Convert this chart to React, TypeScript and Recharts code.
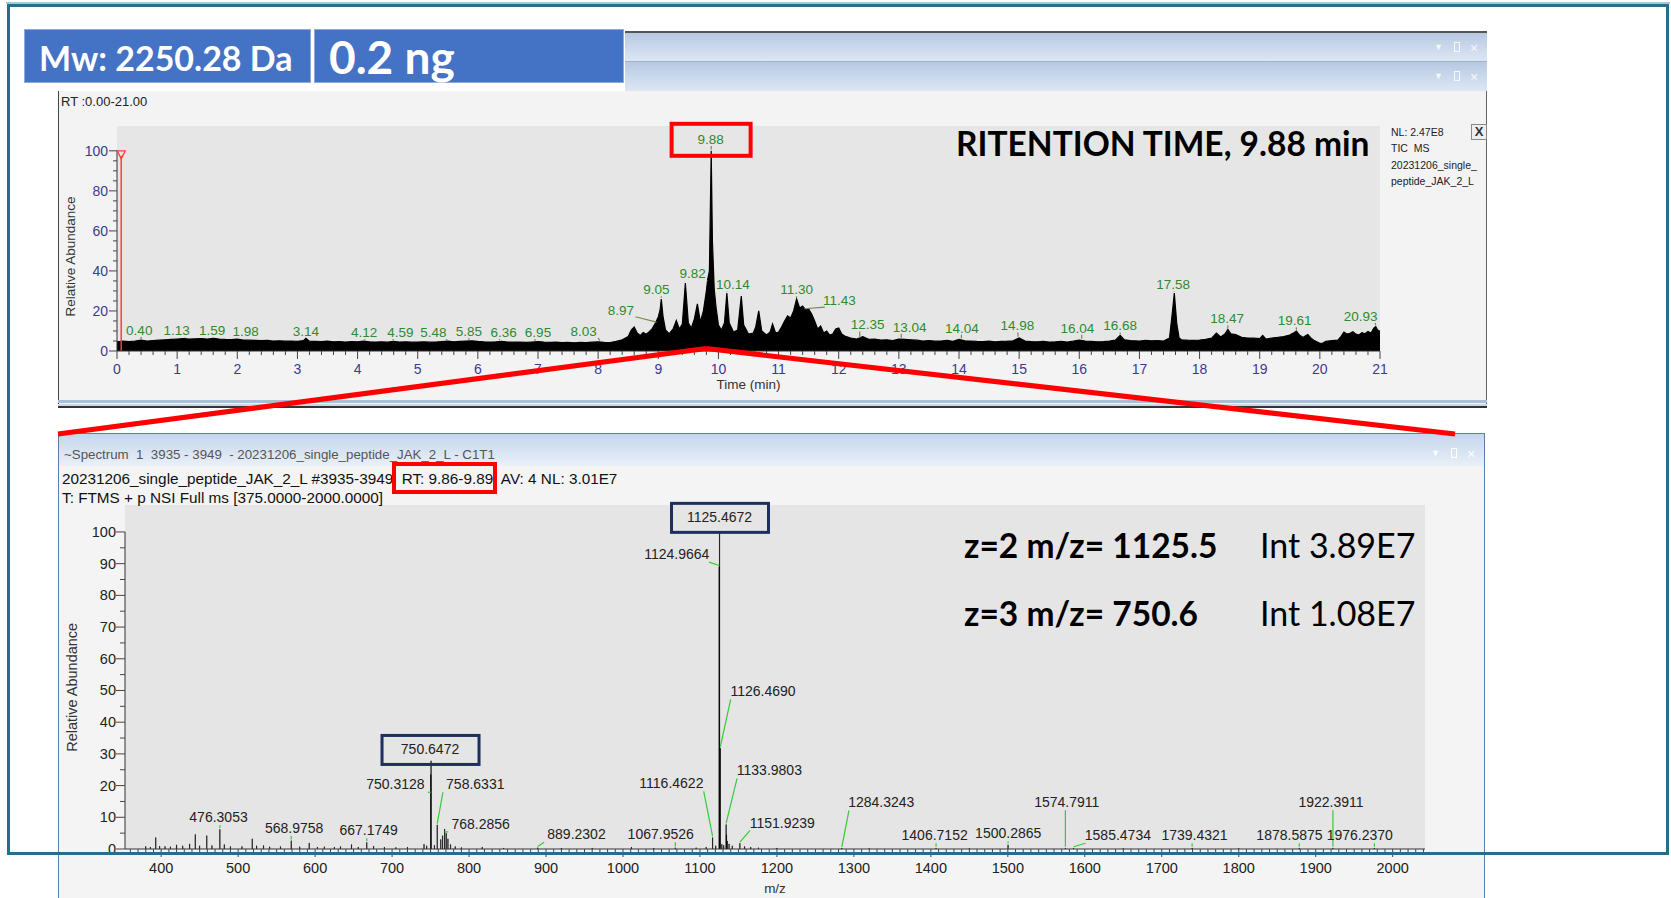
import React from 'react';
import {
  ComposedChart,
  Area,
  Bar,
  XAxis,
  YAxis,
  CartesianGrid,
  ReferenceLine,
  ReferenceDot,
} from 'recharts';

const FONT = '"Liberation Sans", Arial, sans-serif';
const TITLE_FONT = 'Lato, "Open Sans", sans-serif';

// ---- TIC chromatogram (time in min, relative abundance %)
const ticTimes = [
  0.0, 0.1, 0.2, 0.3, 0.4, 0.5, 0.6, 0.7, 0.8, 0.9,
  1.0, 1.1, 1.2, 1.3, 1.4, 1.5, 1.6, 1.7, 1.8, 1.9,
  2.0, 2.1, 2.2, 2.3, 2.4, 2.5, 2.6, 2.7, 2.8, 2.9,
  3.0, 3.1, 3.14, 3.2, 3.3, 3.4, 3.5, 3.6, 3.7, 3.8, 3.9,
  4.0, 4.1, 4.2, 4.3, 4.4, 4.5, 4.6, 4.7, 4.8, 4.9,
  5.0, 5.1, 5.2, 5.3, 5.4, 5.5, 5.6, 5.7, 5.8, 5.9,
  6.0, 6.1, 6.2, 6.3, 6.4, 6.5, 6.6, 6.7, 6.8, 6.9,
  7.0, 7.1, 7.2, 7.3, 7.4, 7.5, 7.6, 7.7, 7.8, 7.9,
  8.0, 8.1, 8.2, 8.3, 8.4, 8.5, 8.55, 8.6, 8.65, 8.7, 8.75, 8.8, 8.85, 8.9, 8.95,
  9.0, 9.03, 9.05, 9.08, 9.12, 9.18, 9.25, 9.3, 9.35, 9.4, 9.45, 9.5, 9.55, 9.6, 9.65,
  9.7, 9.75, 9.8, 9.82, 9.85, 9.88, 9.9, 9.93, 9.96,
  10.0, 10.05, 10.1, 10.14, 10.18, 10.25, 10.32, 10.38, 10.42, 10.5, 10.58, 10.62, 10.67,
  10.72, 10.8, 10.86, 10.9, 10.95,
  11.0, 11.05, 11.1, 11.15, 11.2, 11.25, 11.3, 11.35, 11.4, 11.45, 11.5, 11.55, 11.6,
  11.65, 11.7, 11.75, 11.8, 11.85, 11.9, 11.95,
  12.0, 12.05, 12.1, 12.2, 12.3, 12.4, 12.5, 12.6, 12.7, 12.8, 12.9,
  13.0, 13.1, 13.2, 13.3, 13.4, 13.5, 13.6, 13.7, 13.8, 13.9,
  14.0, 14.1, 14.2, 14.3, 14.4, 14.5, 14.6, 14.7, 14.8, 14.9,
  15.0, 15.1, 15.2, 15.3, 15.4, 15.5, 15.6, 15.7, 15.8, 15.9,
  16.0, 16.1, 16.2, 16.3, 16.4, 16.5, 16.6, 16.68, 16.75, 16.85,
  17.0, 17.1, 17.2, 17.3, 17.4, 17.5, 17.55, 17.58, 17.62, 17.66, 17.7, 17.8, 17.9,
  18.0, 18.1, 18.2, 18.28, 18.35, 18.42, 18.47, 18.52, 18.6, 18.7, 18.8, 18.9,
  19.0, 19.05, 19.1, 19.2, 19.3, 19.4, 19.5, 19.55, 19.61, 19.66, 19.72, 19.8, 19.85, 19.9,
  20.0, 20.05, 20.1, 20.2, 20.3, 20.35, 20.4, 20.45, 20.5, 20.55, 20.6, 20.65, 20.7,
  20.75, 20.8, 20.85, 20.9, 20.93, 20.96, 21.0,
];
const ticValues = [
  4.6, 4.9, 4.7, 5.0, 5.4, 5.0, 5.2, 5.4, 5.6, 5.8,
  6.0, 6.2, 6.0, 6.1, 6.2, 6.0, 6.3, 6.0, 5.8, 5.7,
  5.9, 5.5, 5.4, 5.3, 5.2, 5.3, 5.0, 5.1, 4.9, 5.0,
  4.8, 5.2, 6.4, 4.9, 4.8, 4.7, 4.9, 4.6, 4.7, 4.5, 4.7,
  4.6, 4.9, 4.6, 4.5, 4.6, 4.4, 4.8, 4.5, 4.6, 4.4,
  4.5, 4.6, 4.4, 4.5, 4.7, 4.9, 4.6, 4.8, 5.0, 5.1,
  4.8, 4.6, 4.5, 4.6, 4.8, 4.5, 4.4, 4.5, 4.3, 4.5,
  4.7, 4.4, 4.3, 4.4, 4.2, 4.3, 4.1, 4.3, 4.2, 4.4,
  4.6, 4.3, 4.2, 4.8, 5.6, 7.2, 10.5, 12.0, 9.0, 7.8, 9.2, 8.4, 9.6, 11.2, 13.8,
  17.0, 20.5, 26.0, 17.0, 10.5, 8.6, 11.2, 15.2, 11.0, 13.5, 34.0, 14.0, 11.5, 16.0, 23.5,
  14.5, 20.0, 30.0, 35.5, 40.0, 100, 55.0, 31.0, 22.0,
  13.0, 10.5, 14.0, 29.0, 14.0, 9.5, 10.5, 27.5, 13.0, 8.5, 9.0, 12.0, 20.0,
  10.0, 8.0, 9.5, 13.5, 9.0,
  9.5, 12.0, 15.0, 17.5, 16.5, 20.0, 26.0, 21.5, 22.5, 20.5, 21.0, 18.5, 15.0,
  11.0, 12.5, 9.0, 10.0, 8.0, 8.5, 11.0,
  11.5, 8.5, 7.5, 6.5, 6.0, 7.2, 5.8, 6.0, 5.5, 5.6, 5.2,
  6.0, 5.8, 5.6, 5.4, 5.0, 5.2, 4.9, 5.0, 5.3, 4.8,
  5.8, 5.1, 5.0, 4.8, 4.7, 4.9, 4.6, 4.8, 4.9, 5.1,
  6.5, 5.0, 4.7, 4.6, 4.8, 4.5, 4.6, 4.8, 4.5, 4.9,
  5.5, 5.0, 4.8, 4.6, 4.7, 5.0, 5.4, 7.8, 5.6, 5.2,
  5.0, 5.3, 5.1, 5.2, 5.0, 6.5, 20.0, 29.0, 14.0, 6.5, 5.6, 5.4, 5.3,
  5.5, 5.8, 6.4, 9.0, 7.0, 8.5, 10.8, 8.6, 8.2, 6.8, 6.5, 6.4,
  6.2, 7.8, 6.0, 6.5, 6.8, 7.2, 8.0, 8.8, 10.0, 8.0, 6.8, 8.2, 6.5, 5.4,
  3.8, 4.0, 4.8, 5.2, 5.4, 7.2, 9.5, 8.5, 8.8, 9.6, 8.4, 8.0, 9.2,
  8.6, 9.8, 9.0, 11.5, 12.2, 10.5, 9.8,
];

// peak annotations of the TIC: text, label centre (time, %)
const ticPeakNames = [
  '0.40', '1.13', '1.59', '1.98', '3.14', '4.12', '4.59', '5.48', '5.85', '6.36', '6.95', '8.03',
  '8.97', '9.05', '9.82', '9.88', '10.14', '11.30', '11.43', '12.35', '13.04', '14.04', '14.98',
  '16.04', '16.68', '17.58', '18.47', '19.61', '20.93',
];
const ticLabelTimes = [
  0.37, 0.99, 1.58, 2.14, 3.14, 4.11, 4.71, 5.26, 5.85, 6.43, 7.0, 7.76,
  8.38, 8.97, 9.57, 9.87, 10.24, 11.3, 12.01, 12.48, 13.18, 14.05, 14.97,
  15.97, 16.68, 17.56, 18.46, 19.58, 20.68,
];
const ticLabelLevels = [
  10.6, 10.6, 10.6, 10.1, 10.1, 9.6, 9.6, 9.6, 10.1, 9.6, 9.6, 10.1,
  20.7, 30.9, 38.8, 106.0, 33.5, 30.9, 25.5, 13.3, 12.2, 11.7, 12.8,
  11.7, 12.8, 33.5, 16.5, 15.4, 17.6,
];
const timeMajorTicks = [0, 1, 2, 3, 4, 5, 6, 7, 8, 9, 10, 11, 12, 13, 14, 15, 16, 17, 18, 19, 20, 21];
const timeMinorStep = 0.2;
const ticYTicks = [0, 20, 40, 60, 80, 100];
const markerTime = 0.07;

// ---- Mass spectrum (m/z, relative abundance %)
const mzValues = [
  380, 386, 393, 398, 405, 412, 420, 428, 437, 444.3, 450, 459.3, 466, 476.3053, 482, 490,
  505, 518.3, 524, 533, 541, 555, 568.9758, 580, 592.3, 603, 612, 625, 633, 647.3, 656,
  667.1749, 676, 690, 705, 720, 741.5, 745, 750.3128, 750.6472, 755, 758.6331, 763.3, 765.6,
  768.2856, 770.3, 772.6, 776, 782, 790, 817, 845, 889.2302, 920, 960, 1011, 1040, 1067.9526,
  1095, 1108, 1116.4622, 1120.5, 1124.9664, 1125.4672, 1126.469, 1128.5, 1130.9, 1133.9803,
  1134.5, 1135.5, 1137.8, 1142, 1151.9239, 1158, 1166, 1176, 1200, 1284.3243, 1320,
  1406.7152, 1450, 1500.2865, 1574.7911, 1585.4734, 1650, 1739.4321, 1800, 1878.5875,
  1922.3911, 1976.237,
];
const mzIntensities = [
  0.8, 0.6, 3.6, 0.9, 0.8, 0.7, 1.3, 1.0, 1.6, 4.6, 1.0, 4.2, 1.1, 6.2, 1.4, 0.8,
  0.8, 3.2, 1.0, 1.1, 0.7, 0.8, 2.6, 0.7, 1.9, 0.6, 0.7, 0.6, 0.8, 1.4, 0.6,
  2.1, 0.9, 0.6, 0.5, 0.6, 1.5, 1.0, 23.5, 27.8, 1.2, 7.6, 3.0, 4.2,
  6.3, 5.0, 3.2, 1.4, 0.8, 0.5, 0.6, 0.3, 0.4, 0.3, 0.3, 0.6, 0.3, 0.4,
  0.4, 0.6, 3.6, 1.0, 89.0, 100, 31.8, 1.5, 1.2, 7.7,
  4.5, 2.5, 1.6, 1.0, 1.8, 0.8, 0.6, 0.4, 0.3, 0.3, 0.2,
  0.3, 0.2, 1.3, 0.3, 0.3, 0.2, 0.3, 0.2, 0.3,
  0.3, 0.3,
];

// spectrum peak annotations: text, label centre (m/z, %)
const mzPeakNames = [
  '476.3053', '568.9758', '667.1749', '750.3128', '750.6472', '758.6331', '768.2856',
  '889.2302', '1067.9526', '1116.4622', '1124.9664', '1125.4672', '1126.4690', '1133.9803',
  '1151.9239', '1284.3243', '1406.7152', '1500.2865', '1574.7911', '1585.4734', '1739.4321',
  '1878.5875', '1922.3911', '1976.2370',
];
const mzLabelPositions = [
  474.5, 572.7, 669.6, 704.3, 749.3, 808.1, 815.0,
  939.6, 1049.0, 1062.9, 1069.8, 1125.4, 1181.9, 1190.2,
  1206.9, 1335.6, 1404.9, 1500.5, 1576.6, 1643.0, 1742.6,
  1865.9, 1919.9, 1957.2,
];
const mzLabelLevels = [
  10.0, 6.6, 5.9, 20.4, 31.4, 20.4, 7.9,
  4.6, 4.6, 20.7, 93.0, 104.6, 49.7, 24.8,
  8.3, 14.7, 4.3, 4.9, 14.7, 4.3, 4.3,
  4.3, 14.7, 4.3,
];
const boxedPeaks = ['750.6472', '1125.4672'];
const mzMajorTicks = [400, 500, 600, 700, 800, 900, 1000, 1100, 1200, 1300, 1400, 1500, 1600, 1700, 1800, 1900, 2000];
const mzMinorStep = 10;
const specYTicks = [0, 10, 20, 30, 40, 50, 60, 70, 80, 90, 100];

const ticData = ticTimes.map((t, i) => ({ t, v: ticValues[i] }));
const specData = mzValues.map((mz, i) => ({ mz, inten: mzIntensities[i] }));

const timeTicks: number[] = [];
for (let i = 0; i < timeMajorTicks.length; i++) {
  const m = timeMajorTicks[i];
  timeTicks.push(m);
  if (i < timeMajorTicks.length - 1) {
    for (let k = 1; k < 5; k++) timeTicks.push(+(m + k * timeMinorStep).toFixed(2));
  }
}
const ticYAll: number[] = [];
for (let v = 0; v <= 100; v += 5) ticYAll.push(v);
const specYAll: number[] = [];
for (let v = 0; v <= 100; v += 5) specYAll.push(v);
const mzTicks: number[] = [];
for (let v = 360; v <= 2040; v += mzMinorStep) mzTicks.push(v);

const nearestTic = (t: number) => {
  let best = 0;
  ticTimes.forEach((x, i) => {
    if (Math.abs(x - t) < Math.abs(ticTimes[best] - t)) best = i;
  });
  return ticValues[best];
};
const clampToward = (from: number, to: number, half: number) =>
  from + Math.max(-half, Math.min(half, to - from));

const TimeTick = (props: any) => {
  const { x, y, payload } = props;
  const v = payload.value;
  const major = timeMajorTicks.includes(v);
  return (
    <g>
      <line x1={x} x2={x} y1={y} y2={y + (major ? 8 : 4)} stroke="#444" />
      {major && (
        <text x={x} y={y + 23} textAnchor="middle" fill="#3b3b8f" fontSize={14} fontFamily={FONT}>
          {v}
        </text>
      )}
    </g>
  );
};

const TicYTick = (props: any) => {
  const { x, y, payload } = props;
  const v = payload.value;
  const major = ticYTicks.includes(v);
  return (
    <g>
      <line x1={x - (major ? 8 : 4)} x2={x} y1={y} y2={y} stroke="#444" />
      {major && (
        <text x={x - 9} y={y + 5} textAnchor="end" fill="#3b3b8f" fontSize={14} fontFamily={FONT}>
          {v}
        </text>
      )}
    </g>
  );
};

const MzTick = (props: any) => {
  const { x, y, payload } = props;
  const v = payload.value;
  const major = mzMajorTicks.includes(v);
  const mid = v % 50 === 0;
  return (
    <g>
      <line x1={x} x2={x} y1={y} y2={y + (major ? 8 : mid ? 6 : 4)} stroke="#444" />
      {major && (
        <text x={x} y={y + 24} textAnchor="middle" fill="#222" fontSize={14.5} fontFamily={FONT}>
          {v}
        </text>
      )}
    </g>
  );
};

const SpecYTick = (props: any) => {
  const { x, y, payload } = props;
  const v = payload.value;
  const major = specYTicks.includes(v);
  return (
    <g>
      <line x1={x - (major ? 9 : 5)} x2={x} y1={y} y2={y} stroke="#444" />
      {major && (
        <text x={x - 9} y={y + 5} textAnchor="end" fill="#222" fontSize={14.5} fontFamily={FONT}>
          {v}
        </text>
      )}
    </g>
  );
};

const yTitle = (offsetX: number, frac: number, size: number) => (p: any) => {
  const vb = p.viewBox;
  const cx = vb.x + offsetX;
  const cy = vb.y + vb.height * frac;
  return (
    <text
      x={cx}
      y={cy}
      transform={`rotate(-90 ${cx} ${cy})`}
      textAnchor="middle"
      dominantBaseline="central"
      fill="#333"
      fontSize={size}
      fontFamily={FONT}
    >
      Relative Abundance
    </text>
  );
};

const xTitle = (text: string, dy: number) => (p: any) => {
  const vb = p.viewBox;
  return (
    <text x={vb.x + vb.width / 2} y={vb.y + dy} textAnchor="middle" fill="#333" fontSize={13.5} fontFamily={FONT}>
      {text}
    </text>
  );
};

const TicChart = () => (
  <ComposedChart width={1429} height={318} data={ticData} margin={{ top: 36, right: 107, bottom: 0, left: 0 }}>
    <CartesianGrid horizontal={false} vertical={false} fill="#e6e6e6" stroke="none" />
    <XAxis
      dataKey="t"
      type="number"
      domain={[0, 21]}
      ticks={timeTicks}
      interval={0}
      tickSize={0}
      tickMargin={0}
      tick={<TimeTick />}
      height={57}
      stroke="#333"
      label={xTitle('Time (min)', 38)}
    />
    <YAxis
      type="number"
      domain={[0, 112.4]}
      ticks={ticYAll}
      interval={0}
      tickSize={0}
      tickMargin={0}
      tick={<TicYTick />}
      width={59}
      axisLine={false}
      allowDataOverflow
      label={yTitle(12, 0.58, 13.5)}
    />
    <ReferenceLine segment={[{ x: 0, y: 0 }, { x: 0, y: 100 }]} stroke="#333" ifOverflow="visible" />
    <Area
      dataKey="v"
      type="linear"
      stroke="#000"
      strokeWidth={1.2}
      fill="#000"
      fillOpacity={1}
      isAnimationActive={false}
      dot={false}
      activeDot={false}
    />
    <ReferenceLine
      segment={[{ x: markerTime, y: 0 }, { x: markerTime, y: 97.5 }]}
      stroke="#ff3b3b"
      strokeWidth={1.5}
      ifOverflow="visible"
    />
    <ReferenceDot
      x={markerTime}
      y={97.5}
      r={0}
      ifOverflow="visible"
      shape={(p: any) => (
        <polygon
          points={`${p.cx - 4},${p.cy - 5} ${p.cx + 4},${p.cy - 5} ${p.cx},${p.cy + 3}`}
          fill="none"
          stroke="#ff3b3b"
          strokeWidth={1.3}
        />
      )}
    />
    {ticPeakNames.map((name, i) => {
      const pt = parseFloat(name);
      const ph = nearestTic(pt);
      const lx = ticLabelTimes[i];
      const ly = ticLabelLevels[i];
      return (
        <ReferenceLine
          key={'tl' + name}
          segment={[
            { x: clampToward(lx, pt, 0.24), y: ly - 3.6 },
            { x: pt, y: Math.min(ph + 0.6, ly - 3.6) },
          ]}
          stroke="#7a8a4a"
          strokeWidth={1.2}
          ifOverflow="visible"
        />
      );
    })}
    {ticPeakNames.map((name, i) => (
      <ReferenceDot
        key={'td' + name}
        x={ticLabelTimes[i]}
        y={ticLabelLevels[i]}
        r={0}
        ifOverflow="visible"
        shape={(p: any) => (
          <g>
            {name === '9.88' && (
              <rect x={p.cx - 39} y={p.cy - 15} width={79} height={32} fill="none" stroke="#ff0000" strokeWidth={4} />
            )}
            <text
              x={p.cx}
              y={p.cy + 5}
              textAnchor="middle"
              fill="#2f8a2f"
              fontSize={13.5}
              fontFamily={FONT}
            >
              {name}
            </text>
          </g>
        )}
      />
    ))}
  </ComposedChart>
);

const SpectrumChart = () => (
  <ComposedChart width={1427} height={461} data={specData} margin={{ top: 68, right: 60, bottom: 0, left: 0 }}>
    <CartesianGrid horizontal={false} vertical={false} fill="#e5e5e5" stroke="none" />
    <XAxis
      dataKey="mz"
      type="number"
      domain={[353, 2042]}
      allowDataOverflow
      ticks={mzTicks}
      interval={0}
      tickSize={0}
      tickMargin={0}
      tick={<MzTick />}
      height={49}
      stroke="#333"
      label={xTitle('m/z', 44)}
    />
    <YAxis
      type="number"
      domain={[0, 108.5]}
      ticks={specYAll}
      interval={0}
      tickSize={0}
      tickMargin={0}
      tick={<SpecYTick />}
      width={67}
      axisLine={false}
      allowDataOverflow
      label={yTitle(14, 0.53, 14.5)}
    />
    <ReferenceLine segment={[{ x: 353, y: 0 }, { x: 353, y: 100 }]} stroke="#333" ifOverflow="visible" />
    <Bar dataKey="inten" fill="#000" stroke="#000" strokeWidth={0.6} barSize={2} isAnimationActive={false} />
    {mzPeakNames.map((name, i) => {
      const pm = parseFloat(name);
      const ph = mzIntensities[mzValues.findIndex((m) => Math.abs(m - pm) < 0.01)] ?? 0;
      const lx = mzLabelPositions[i];
      const boxed = boxedPeaks.includes(name);
      const ly = mzLabelLevels[i] - (boxed ? 5 : 2.5);
      return (
        <ReferenceLine
          key={'sl' + name}
          segment={[
            { x: clampToward(lx, pm, 42), y: ly },
            { x: pm, y: Math.min(ph + 0.4, ly) },
          ]}
          stroke="#33cc33"
          strokeWidth={1.2}
          ifOverflow="visible"
        />
      );
    })}
    {mzPeakNames.map((name, i) => (
      <ReferenceDot
        key={'sd' + name}
        x={mzLabelPositions[i]}
        y={mzLabelLevels[i]}
        r={0}
        ifOverflow="visible"
        shape={(p: any) => (
          <g>
            {boxedPeaks.includes(name) && (
              <rect x={p.cx - 48} y={p.cy - 14} width={97} height={29} fill="none" stroke="#1c2f5e" strokeWidth={3} />
            )}
            <text x={p.cx} y={p.cy + 5} textAnchor="middle" fill="#222" fontSize={14} fontFamily={FONT}>
              {name}
            </text>
          </g>
        )}
      />
    ))}
  </ComposedChart>
);

const abs = (l: number, t: number, w: number, h: number): React.CSSProperties => ({
  position: 'absolute',
  left: l,
  top: t,
  width: w,
  height: h,
  boxSizing: 'border-box',
});

const barGradient = 'linear-gradient(#b6c9e2, #dde7f4)';

const WindowIcons = ({ top, left, color }: { top: number; left: number; color: string }) => (
  <div style={{ ...abs(left, top, 60, 16), fontFamily: FONT, fontSize: 12, color, whiteSpace: 'pre' }}>
    <span style={{ fontSize: 9, position: 'absolute', left: 0, top: 2 }}>▼</span>
    <span style={{ position: 'absolute', left: 20, top: 2, width: 4, height: 8, border: `1px solid ${color}` }} />
    <span style={{ position: 'absolute', left: 36, top: 0, fontSize: 14 }}>×</span>
  </div>
);

export default function App() {
  return (
    <div style={{ position: 'absolute', left: 0, top: 0, width: 1671, height: 898, background: '#fff', overflow: 'hidden', fontFamily: FONT }}>
      {/* header boxes */}
      <div style={{ ...abs(24, 29, 287, 54), background: '#4472c4', border: '1px solid #8faadc' }} />
      <div style={{ ...abs(314, 29, 310, 54), background: '#4472c4', border: '1px solid #8faadc' }} />

      {/* window title bars */}
      <div style={{ ...abs(625, 31, 862, 30), background: barGradient, borderTop: '2px solid #555' }} />
      <div style={{ ...abs(625, 61, 862, 30), background: barGradient, borderTop: '1px solid #9fb3cc' }} />
      <WindowIcons left={1434} top={40} color="#f4f7fb" />
      <WindowIcons left={1434} top={69} color="#f4f7fb" />

      {/* TIC panel */}
      <div style={{ ...abs(58, 91, 1429, 317), background: '#f3f3f3', borderLeft: '1px solid #444', borderRight: '1px solid #666' }} />
      <div style={{ ...abs(58, 400, 1429, 3), background: '#a9bfd6' }} />
      <div style={{ ...abs(58, 404, 1429, 2), background: '#c9d7e6' }} />
      <div style={{ ...abs(58, 406, 1429, 2), background: '#333' }} />
      <div style={{ position: 'absolute', left: 58, top: 90 }}>
        <TicChart />
      </div>
      <div style={{ position: 'absolute', left: 61, top: 94, fontSize: 13, color: '#222' }}>RT :0.00-21.00</div>
      <div style={{ position: 'absolute', left: 1391, top: 124, fontSize: 10.5, lineHeight: '16.3px', color: '#222' }}>
        <div>NL: 2.47E8</div>
        <div>TIC&nbsp; MS</div>
        <div>20231206_single_</div>
        <div>peptide_JAK_2_L</div>
      </div>
      <div
        style={{
          ...abs(1471, 124, 16, 16),
          border: '1px solid #888',
          background: '#eee',
          fontSize: 13,
          fontWeight: 700,
          lineHeight: '14px',
          textAlign: 'center',
          color: '#333',
        }}
      >
        X
      </div>

      {/* Spectrum panel */}
      <div style={{ ...abs(58, 433, 1427, 470), background: '#f4f4f4', border: '1px solid #5b7fa6' }} />
      <div style={{ ...abs(59, 434, 1425, 32), background: 'linear-gradient(#c5d6eb, #e9f0f8)' }} />
      <div style={{ position: 'absolute', left: 64, top: 447, fontSize: 13.3, color: '#555', whiteSpace: 'pre' }}>
        ~Spectrum  1  3935 - 3949  - 20231206_single_peptide_JAK_2_L - C1T1
      </div>
      <WindowIcons left={1431} top={446} color="#ffffff" />
      <div style={{ position: 'absolute', left: 58, top: 437 }}>
        <SpectrumChart />
      </div>
      <div style={{ position: 'absolute', left: 62, top: 470, fontSize: 15.3, color: '#111', whiteSpace: 'pre' }}>
        20231206_single_peptide_JAK_2_L #3935-3949  RT: 9.86-9.89  AV: 4 NL: 3.01E7
      </div>
      <div style={{ position: 'absolute', left: 62, top: 489, fontSize: 15.3, color: '#111', whiteSpace: 'pre' }}>
        T: FTMS + p NSI Full ms [375.0000-2000.0000]
      </div>
      <div style={{ ...abs(392, 462, 105, 32), border: '4px solid #ff0000' }} />

      {/* overlay annotations */}
      <svg width={1671} height={898} style={{ position: 'absolute', left: 0, top: 0, pointerEvents: 'none' }}>
        <text x={39} y={71} fill="#fff" fontSize={34} fontWeight={700} fontFamily={TITLE_FONT}>
          Mw: 2250.28 Da
        </text>
        <text x={329} y={74} fill="#fff" fontSize={46} fontWeight={700} fontFamily={TITLE_FONT}>
          0.2 ng
        </text>
        <text x={956} y={156} fill="#000" fontSize={33.5} fontWeight={700} fontFamily={TITLE_FONT}>
          RITENTION TIME, 9.88 min
        </text>
        <text x={964} y={558} fill="#000" fontSize={33.5} fontWeight={700} fontFamily={TITLE_FONT}>
          z=2 m/z= 1125.5
        </text>
        <text x={1260} y={558} fill="#000" fontSize={34} fontFamily={TITLE_FONT}>
          Int 3.89E7
        </text>
        <text x={964} y={626} fill="#000" fontSize={33.5} fontWeight={700} fontFamily={TITLE_FONT}>
          z=3 m/z= 750.6
        </text>
        <text x={1260} y={626} fill="#000" fontSize={34} fontFamily={TITLE_FONT}>
          Int 1.08E7
        </text>
        <line x1={58} y1={434} x2={706} y2={348.5} stroke="#ff0000" strokeWidth={5} />
        <line x1={706} y1={348.5} x2={1455} y2={434} stroke="#ff0000" strokeWidth={5} />
      </svg>

      {/* outer slide frame */}
      <div style={{ ...abs(6, 2, 1664, 2), background: '#a8c6d8' }} />
      <div style={{ ...abs(7, 4, 1662, 851), border: '3px solid #2b6c8c' }} />
    </div>
  );
}
